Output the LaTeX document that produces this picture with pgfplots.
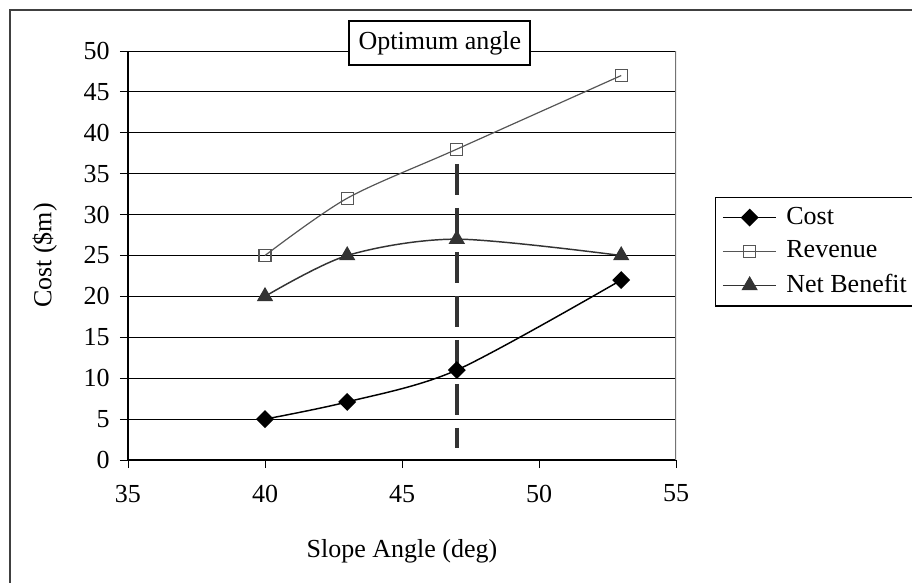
\documentclass[border=0pt]{standalone}
\usepackage{fontspec}
\setmainfont{Liberation Serif}
\usepackage{pgfplots}
\pgfplotsset{compat=1.18}
\definecolor{revgray}{HTML}{555555}
\definecolor{netgray}{HTML}{333333}
\begin{document}
\fontsize{19.5}{23}\selectfont
\begin{tikzpicture}
\useasboundingbox (0,0) rectangle (684pt,-436.5pt);
\begin{scope}
\clip (0,0) rectangle (684pt,-436.5pt);
\draw[line width=1.5pt, color=black!75] (7.5pt,-7.5pt) rectangle (720pt,-460pt);
\begin{axis}[
  scale only axis,
  width=411pt, height=306.75pt,
  at={(96pt,-345pt)}, anchor=south west,
  xmin=35, xmax=55, ymin=0, ymax=50,
  xtick={35,40,...,55}, ytick={0,5,...,50},
  axis x line*=bottom, axis y line*=left,
  axis line style={-, black, line width=0.9pt},
  tick align=outside, major tick length=6pt,
  tick style={black, line width=0.75pt},
  ymajorgrids, grid style={black, line width=0.75pt},
  /pgf/number format/assume math mode=true,
  xticklabel style={yshift=-6pt},
  yticklabel style={xshift=-1pt},
  xlabel={Slope Angle (deg)}, ylabel={Cost (\$m)},
  xlabel style={at={(axis description cs:0.5,-0.2225)}, anchor=center},
  ylabel style={at={(axis description cs:-0.152,0.5)}, anchor=center},
  title={Optimum angle},
  title style={at={(axis description cs:0.569,1.0196)}, anchor=center, yshift=-6pt, draw=black, fill=white, line width=1.5pt, inner xsep=7pt, inner ysep=7.5pt},
  legend style={at={(axis description cs:1.071,0.643)}, anchor=north west, draw=black, line width=1pt, inner sep=5pt, row sep=5.5pt, /tikz/every odd column/.append style={column sep=5pt}},
  legend cell align=left,
  legend image code/.code={\draw[mark repeat=2,mark phase=2,#1] plot coordinates {(0pt,0pt) (20pt,0pt) (40pt,0pt)};},
]
\draw[black!55, line width=1pt] (rel axis cs:1,0) -- (rel axis cs:1,1);
\addplot[color=netgray, line width=3pt, dash pattern=on 23.25pt off 9.75pt, forget plot] coordinates {(47,36.2) (47,1.45)};
\addplot[color=black, line width=1.1pt, smooth, mark=square*, mark size=4.2pt, mark options={rotate=45, fill=black, solid}] coordinates {(40,5) (43,7.1) (47,11) (53,22)};
\addlegendentry{Cost}
\addplot[color=revgray, line width=0.9pt, smooth, mark=square, mark size=4.5pt, mark options={fill=white, solid}] coordinates {(40,25) (43,32) (47,38) (53,47)};
\addlegendentry{Revenue}
\addplot[color=netgray, line width=1.1pt, smooth, mark=triangle*, mark size=6pt, mark options={fill=netgray, solid}] coordinates {(40,20) (43,25) (47,27) (53,25)};
\addlegendentry{Net Benefit}
\end{axis}
\end{scope}
\end{tikzpicture}
\end{document}
